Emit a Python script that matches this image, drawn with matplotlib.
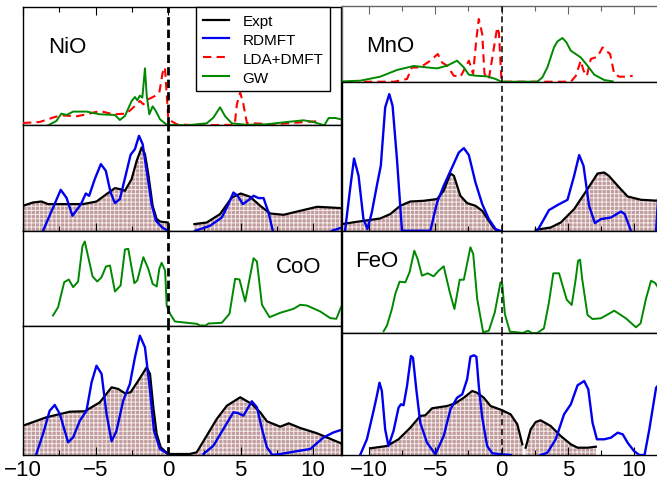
import numpy as np
import matplotlib
matplotlib.use("Agg")
import matplotlib.pyplot as plt
from matplotlib.lines import Line2D
from matplotlib.ticker import MultipleLocator

plt.rcParams['font.family'] = ['Liberation Sans', 'DejaVu Sans']
plt.rcParams['hatch.linewidth'] = 0.7
plt.rcParams['hatch.color'] = '#f4eaea'

nan = np.nan

# ---------------- NiO ----------------
nio_gw_x = [-8.27,-7.7,-7.35,-7.0,-6.54,-5.62,-4.70,-3.66,-3.32,-2.97,-2.51,-2.28,-2.12,-1.94,-1.77,-1.59,-1.47,-1.29,-1.06,-0.83,-0.55,-0.09,1.29,2.67,3.13,3.59,3.94,4.40,5.44,6.8,8.2,9.35,10.03,10.78,11.08,11.54,11.93]
nio_gw_y = [0,4.3,11.7,10.3,13.7,13.7,11,10.3,5.3,9.3,24.3,28.3,25,29.7,27.7,57,30,11,19,14,6,0.5,0,2,7.7,18,9,2,0.5,1,3.3,5,3.3,0,7.3,7.3,6]
nio_dmft_x = [-10,-8.85,-7.93,-7.4,-6.31,-5.62,-4.70,-3.78,-2.86,-2.28,-1.94,-1.70,-1.36,-0.90,-0.60,-0.37,-0.21,0.02,0.6,2.0,4.6,4.75,4.98,5.2,5.44,7.3,9.8,10.5]
nio_dmft_y = [2.3,3.3,7.7,10,9,11,14.3,11,11.7,19.3,24.3,21,26,29.3,32.7,52.7,58,6,1,0,0.5,21,32.7,21,2.3,1,3.7,4]
nio_exp_x = [-10,-9.31,-8.73,-8.27,-7.0,-5.85,-4.93,-4.24,-3.66,-3.32,-2.97,-2.51,-2.16,-1.82,-1.59,-1.36,-1.06,-0.78,-0.55,-0.02,nan,1.82,2.67,3.59,4.40,5.02,5.66,6.36,7.05,7.97,9.12,10.28,11.2,11.93]
nio_exp_y = [25,28.3,29.3,26.7,26.7,26.7,29.3,36.7,42.7,41.7,40,51.7,70,83.3,76.7,56.7,25,11.7,9.3,8.3,nan,6.7,8.3,16.7,33.3,37.3,34,25,17.3,16,20,24,23.3,22.7]
nio_rd_x = [-8.62,-7.93,-7.4,-7.0,-6.59,-6.0,-5.67,-5.44,-5.05,-4.63,-4.29,-3.96,-3.66,-3.32,-2.90,-2.58,-2.28,-2.0,-1.75,-1.47,-1.13,-0.83,-0.4,0,nan,1.87,2.9,3.71,4.17,4.51,4.8,5.16,5.55,5.90,6.25,6.59,6.93,7.23,nan,11.3,11.93]
nio_rd_y = [0,23,41,33,15,26.7,37.3,35,51.7,66.7,60,38.3,27.7,31.7,56.7,76,81.7,95,86.7,60,26.7,10,3.3,0,nan,0,5,13.3,26.7,38.3,35,26.7,30.7,35,32.7,32.7,18.3,0,nan,0,3]

# ---------------- CoO ----------------
coo_gw_x = [-7.93,-7.58,-7.16,-6.84,-6.54,-6.2,-5.90,-5.74,-5.50,-5.20,-4.88,-4.58,-4.28,-4.0,-3.66,-3.27,-2.97,-2.74,-2.32,-2.12,-1.70,-1.36,-1.06,-0.78,-0.60,-0.44,-0.2,-0.09,0.14,0.48,1.98,2.2,2.6,2.79,3.71,4.24,4.63,4.93,5.32,5.9,6.13,6.48,7.0,7.74,8.66,9.12,9.58,10.5,11.2,11.61,11.93]
coo_gw_y = [10,18.3,43.3,46,38.3,44,79.3,84,68.3,49,44,48.3,59,60,34,40,76,76.7,42.3,45,68.3,56.7,41.7,39,56.7,62.7,55,20,11.7,4,1.7,0,0,2,2.7,11.7,46.7,46,24,67.3,64,20.7,8.3,12.7,16.7,20.7,20,14,7.3,6.7,18.3]
coo_exp_x = [-10,-8.39,-6.77,-5.74,-4.70,-3.89,-3.43,-2.97,-2.58,-2.05,-1.47,-1.24,-1.01,-0.78,-0.5,0,1.5,1.98,2.67,3.36,4.06,4.98,5.78,6.36,6.82,7.74,8.32,9.12,10.28,11.93]
coo_exp_y = [29.3,37.7,43.3,43.7,52.7,67.7,66,61.7,62.7,74.3,87.7,81,47.7,21,7.7,1,1,2.7,19.3,36,49.3,57.7,51,42.7,33.7,28.3,31.7,27,21.7,11.7]
coo_rd_x = [-9.08,-8.62,-8.16,-7.81,-7.46,-6.89,-6.54,-6.08,-5.62,-5.27,-4.93,-4.58,-4.24,-3.89,-3.55,-3.09,-2.63,-2.28,-1.94,-1.59,-1.24,-0.97,-0.55,0,nan,2.44,3.13,3.82,4.51,4.86,5.2,5.47,5.78,6.13,6.48,6.82,7.2,7.74,9.81,10.74,11.43,11.93]
coo_rd_y = [1,21,44.3,50,41,12.7,17.7,34.3,44.3,72.7,89.3,81,41,13.7,24.3,54.3,71,97.7,119.3,107.7,64.3,24.3,6,1,nan,1,9.3,26,42.7,41.7,39.3,46,53.7,47.7,26,7.7,0,1,6,17.7,22.7,25]

# ---------------- MnO ----------------
mno_gw_x = [-12.05,-10.68,-9.17,-7.90,-6.64,-5.63,-4.87,-4.12,-3.36,-2.85,-2.47,-1.97,-1.09,-0.45,0,2.7,3.08,3.46,3.96,4.22,4.60,4.9,5.23,5.98,6.49,7.0,7.75,8.4]
mno_gw_y = [0.3,1,5,11.7,15.7,14.3,13.3,16,21,14.3,7,6,5.3,2.7,0,0,4.3,14.3,34.3,40.3,43.7,39.3,31,24.3,16,7,1.7,0.3]
mno_dmft_x = [-10.4,-8.1,-7.14,-6.77,-6.14,-5.38,-4.82,-4.5,-4.12,-3.61,-3.1,-2.47,-2.15,-1.89,-1.72,-1.46,-1.29,-0.96,-0.53,-0.33,-0.2,0,5.23,5.6,5.98,6.19,6.44,6.74,7.25,7.63,7.88,8.2,8.51,8.9,9.52,9.9]
mno_dmft_y = [0,0,2.7,14.3,14.3,21,27.7,19.3,16,6,5,21,7.7,44.3,62.7,47.7,7.7,2.7,37.7,54.3,49,0,0,5.7,21,11,5.7,22.7,25,34.3,31,27.7,7.7,5,5,6]
mno_exp_x = [-12.05,-10.93,-9.17,-8.41,-7.65,-6.89,-5.88,-4.87,-4.37,-3.86,-3.6,-3.11,-2.6,-1.97,-1.46,-0.96,-0.58,-0.3,nan,2.58,3.71,4.47,5.48,6.49,7.25,7.75,8.1,8.77,9.52,10.53,11.89]
mno_exp_y = [6.7,9,12.3,16.7,25,29.3,30,31.7,40,57.3,55,35,27.7,25,20,10,2.7,0,nan,1,3.3,8.3,21.7,41.7,57.3,58.3,55,45,34.3,31,30]
mno_rd_x = [-11.82,-11.44,-11.14,-10.8,-10.43,-10.13,-9.8,-9.42,-9.12,-8.79,-8.48,-8.23,-7.90,-7.52,-5.38,-4.87,-4.37,-3.74,-3.23,-2.85,-2.47,-1.97,-1.46,-0.96,-0.45,-0.1,nan,2.7,3.2,3.58,4.22,4.98,5.48,5.86,6.19,6.61,7.05,7.5,8.26,9.02,9.3,9.77,nan,11.67,11.89]
mno_rd_y = [0,41.7,72.3,55,11.7,1.7,18.3,45,65,123.3,136.7,125,71.7,0,0,28.3,45,63.3,78.3,82.7,75.7,48.3,26.7,11.7,1.7,0,nan,0,11.7,20.7,25.7,31,55,75.7,65,25,7.7,11.7,13.3,19.3,16.7,0,nan,0,48]

# ---------------- FeO ----------------
feo_gw_x = [-8.91,-8.66,-8.28,-8.03,-7.70,-7.27,-6.95,-6.59,-6.34,-6.01,-5.58,-5.13,-4.75,-4.37,-3.91,-3.56,-3.16,-2.85,-2.35,-2.14,-1.84,-1.39,-0.96,-0.51,-0.08,0.05,0.25,0.63,1.2,1.6,1.99,2.3,2.7,3.2,3.58,3.91,4.34,4.92,5.3,5.6,5.78,5.93,6.09,6.49,6.87,7.5,8.51,9.39,10.15,10.5,10.9,11.29,11.6,11.89]
feo_gw_y = [1.7,7.3,24,39,51.3,50.7,60.7,82.3,74,57.3,59.7,56.7,62.3,66.7,40.7,24,53.3,53.3,85.7,79,34,0.7,2.3,20.7,50.7,49,19,1.3,0.7,0,2.3,0,0,4.7,30.7,59.7,59.7,33.3,28,54,72.3,73.3,54,18,14,14.7,22.3,14.7,5.7,9.7,34,52.3,50,44]
feo_exp_x = [-9.92,-8.66,-7.78,-6.89,-6.14,-5.76,-5.25,-4.11,-3.49,-2.85,-2.22,-1.86,-1.34,-0.83,0,0.68,1.19,1.57,nan,1.82,2.2,2.58,2.95,3.71,4.47,5.23,5.74,6.5,7.12]
feo_exp_y = [6.7,9,15.7,27.3,39,39.7,46.7,49,51.7,57.3,64,62.3,57.3,49,45,40.7,30.7,10.7,nan,7.3,25.7,33,34.7,29,19,10.7,7.3,7.3,8.3]
feo_rd_x = [-10.68,-10.17,-9.67,-9.42,-9.22,-9.04,-8.79,-8.54,-8.16,-7.78,-7.6,-7.4,-7.14,-6.84,-6.69,-6.44,-6.14,-5.63,-5.0,-4.37,-3.86,-3.36,-2.97,-2.6,-2.35,-2.1,-1.9,-1.72,-1.46,-1.09,-0.7,0,0.7,nan,2.95,3.46,4.09,4.72,5.23,5.74,6.24,6.55,6.87,7.2,7.75,8.26,8.77,9.15,9.52,10.0,10.4,10.8,11.16,11.67,11.89]
feo_rd_y = [0,15.7,44,59,72.3,64,25.7,9,24,47.3,50.7,49.7,69,99,97.3,65.7,32.3,12.3,0.7,19,45.7,57.3,60.7,75.7,98.3,99.7,98.3,69,37.3,9,1.7,0.7,0,nan,0,2.3,15.7,40.7,50.7,69.7,74,65.7,32.3,15.7,15.7,17.3,22.3,20.7,12.3,4,0,0,25.7,67.3,70.7]

labels = ["NiO", "CoO", "MnO", "FeO"]
legend_labels = ["Expt", "RDMFT", "LDA+DMFT", "GW"]
xtick_vals = [-10, -5, 0, 5, 10]

W, H = 657, 481
fig = plt.figure(figsize=(W / 100, H / 100), dpi=100)

C_EXP, C_RD, C_DMFT, C_GW = 'black', '#0000ee', '#ff0000', '#008800'
FILL = '#c19c9c'


def add_ax(x0, y0, x1, y1, xlim, ylim):
    ax = fig.add_axes([x0 / W, 1 - y1 / H, (x1 - x0) / W, (y1 - y0) / H])
    ax.set_xlim(*xlim)
    ax.set_ylim(*ylim)
    ax.set_yticks([])
    ax.set_xticks(xtick_vals)
    ax.xaxis.set_minor_locator(MultipleLocator(2.5))
    ax.tick_params(axis='x', which='both', direction='in', bottom=False, top=False,
                   labelbottom=False)
    ax.tick_params(axis='x', which='major', length=6, width=0.8)
    ax.tick_params(axis='x', which='minor', length=3.5, width=0.8)
    for s in ax.spines.values():
        s.set_linewidth(1.0)
    return ax


XL = (-10, 11.93)
XR = (-12.05, 11.89)
LX0, LX1 = 23, 341
RX0, RX1 = 342, 659


def gw_panel(ax, gx, gy, dx=None, dy=None, vlw=2.0, dash=(3, 1.5)):
    if dx is not None:
        ax.plot(dx, dy, color=C_DMFT, lw=1.5, ls=(0, (4, 2.5)), zorder=3)
    ax.plot(gx, gy, color=C_GW, lw=1.4, zorder=4)
    ax.axvline(0, color='k', lw=vlw, ls=(0, dash), zorder=5)


def exp_panel(ax, ex, ey, rx, ry, vlw=2.0, dash=(3, 1.5)):
    ex = np.array(ex, float)
    ey = np.array(ey, float)
    ok = ~np.isnan(ey)
    ax.fill_between(ex, 0, ey, where=ok, facecolor=FILL, hatch='++++',
                    edgecolor='#f4eaea', linewidth=0, zorder=1)
    ax.plot(ex, ey, color=C_EXP, lw=1.6, zorder=3)
    ax.plot(rx, ry, color=C_RD, lw=1.7, zorder=4)
    ax.axvline(0, color='k', lw=vlw, ls=(0, dash), zorder=5)


# Left column
ax1 = add_ax(LX0, 8, LX1, 126.3, XL, (0, 118.3))
gw_panel(ax1, nio_gw_x, nio_gw_y, nio_dmft_x, nio_dmft_y)
ax1.tick_params(axis='x', which='both', top=True)
ax1.text(0.078, 0.62, labels[0], transform=ax1.transAxes, fontsize=16)

ax2 = add_ax(LX0, 126.3, LX1, 231.8, XL, (0, 105.5))
exp_panel(ax2, nio_exp_x, nio_exp_y, nio_rd_x, nio_rd_y)
ax2.tick_params(axis='x', which='both', bottom=True)

ax3 = add_ax(LX0, 231.8, LX1, 326.5, XL, (0, 94.7))
gw_panel(ax3, coo_gw_x, coo_gw_y)
ax3.text(0.795, 0.56, labels[1], transform=ax3.transAxes, fontsize=16)

ax4 = add_ax(LX0, 326.5, LX1, 456, XL, (0, 129.5))
exp_panel(ax4, coo_exp_x, coo_exp_y, coo_rd_x, coo_rd_y)
ax4.tick_params(axis='x', which='both', bottom=True, labelbottom=True,
                labelsize=16, pad=3)

# Right column
GRAY = '#666666'
ax5 = add_ax(RX0, 7, RX1, 82.7, XR, (0, 75.7))
gw_panel(ax5, mno_gw_x, mno_gw_y, mno_dmft_x, mno_dmft_y, vlw=1.1, dash=(4, 2.5))
ax5.tick_params(axis='x', which='both', top=True, color=GRAY)
for s in ax5.spines.values():
    s.set_color(GRAY)
ax5.text(0.075, 0.40, labels[2], transform=ax5.transAxes, fontsize=16)

ax6 = add_ax(RX0, 82.7, RX1, 231.8, XR, (0, 149.1))
exp_panel(ax6, mno_exp_x, mno_exp_y, mno_rd_x, mno_rd_y, vlw=1.1, dash=(4, 2.5))
ax6.tick_params(axis='x', which='both', bottom=True)

ax7 = add_ax(RX0, 231.8, RX1, 334, XR, (0, 102.2))
gw_panel(ax7, feo_gw_x, feo_gw_y, vlw=1.1, dash=(4, 2.5))
ax7.text(0.04, 0.66, labels[3], transform=ax7.transAxes, fontsize=16)

ax8 = add_ax(RX0, 334, RX1, 456, XR, (0, 122))
exp_panel(ax8, feo_exp_x, feo_exp_y, feo_rd_x, feo_rd_y, vlw=1.1, dash=(4, 2.5))
ax8.tick_params(axis='x', which='both', bottom=True, labelbottom=True,
                labelsize=16, pad=3)

handles = [Line2D([], [], color=C_EXP, lw=1.6),
           Line2D([], [], color=C_RD, lw=1.6),
           Line2D([], [], color=C_DMFT, lw=1.5, ls=(0, (4, 2.5))),
           Line2D([], [], color=C_GW, lw=1.5)]
leg = fig.legend(handles, legend_labels, loc='upper left',
                 bbox_to_anchor=(196 / W, 1 - 8 / H), borderaxespad=0,
                 fontsize=11, frameon=True, fancybox=False, framealpha=1,
                 edgecolor='black', handlelength=1.7, handletextpad=0.9,
                 labelspacing=0.32, borderpad=0.45)
leg.get_frame().set_linewidth(1.0)
leg.set_zorder(10)

fig.savefig('out.png', dpi=100)
